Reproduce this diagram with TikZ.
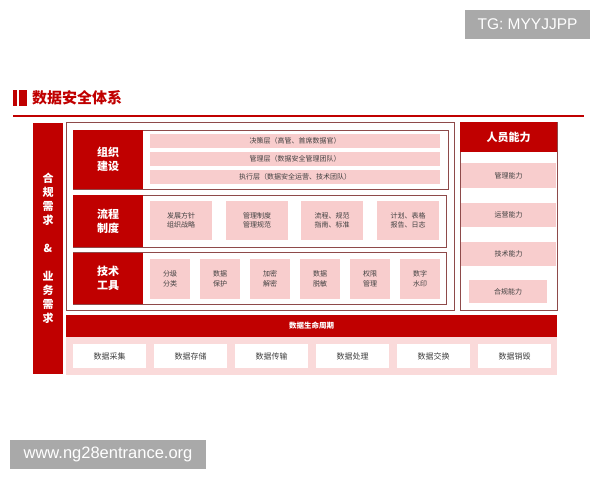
\documentclass[tikz,border=0pt]{standalone}
\usepackage{fontspec}
\setmainfont{Liberation Sans}
\newfontfamily\cjk{Noto Sans CJK SC}
\usetikzlibrary{positioning}

\definecolor{hongse}{HTML}{C00000}
\definecolor{fense}{HTML}{F8CDCD}
\definecolor{qianfen}{HTML}{FADADA}
\definecolor{biankuang}{HTML}{8E4A4A}
\definecolor{huise}{HTML}{A9A9A9}
\definecolor{wenzi}{HTML}{404040}

\tikzset{
  kuang/.style={anchor=north west, inner sep=0pt, outer sep=0pt, align=center},
  redblk/.style={kuang, fill=hongse, text=white, font=\cjk\bfseries\fontsize{11}{14}\selectfont},
  pinkbox/.style={kuang, fill=fense, text=wenzi, font=\cjk\fontsize{7}{9.5}\selectfont},
  whitebox/.style={kuang, fill=white, text=wenzi, font=\cjk\fontsize{8}{10}\selectfont},
  frame/.style={draw=biankuang, line width=0.8pt},
  shuiyin/.style={kuang, fill=huise, text=white}
}

\begin{document}
\begin{tikzpicture}[x=1pt, y=-1pt]
  \useasboundingbox (0,0) rectangle (600,480);

  % 标题
  \fill[hongse] (13,90) rectangle (17,106);
  \fill[hongse] (19,90) rectangle (27,106);
  \node[anchor=west, inner sep=0pt, text=hongse, font=\cjk\bfseries\fontsize{15}{17}\selectfont] (title) at (32,98) {数据安全体系};
  \draw[hongse, line width=2.5pt] (13,116) -- (584,116);

  % 左侧竖条
  \node[redblk, minimum width=30pt, minimum height=251pt] (xuqiu) at (33,123)
    {合\\规\\需\\求\\[14pt]\&\\[14pt]业\\务\\需\\求};

  % 主框
  \draw[frame] (66,122) rectangle (454,310);

  % 组织建设
  \draw[frame] (73,130) rectangle (448,189);
  \node[redblk, minimum width=70pt, minimum height=59pt] (zuzhi) at (73,130) {组织\\建设};
  \node[pinkbox, minimum width=290pt, minimum height=14pt] (juece) at (150,134) {决策层（高管、首席数据官）};
  \node[pinkbox, minimum width=290pt, minimum height=14pt] (guanli) at (150,152) {管理层（数据安全管理团队）};
  \node[pinkbox, minimum width=290pt, minimum height=14pt] (zhixing) at (150,170) {执行层（数据安全运营、技术团队）};

  % 流程制度
  \draw[frame] (73,195) rectangle (446,247);
  \node[redblk, minimum width=70pt, minimum height=52pt] (liucheng) at (73,195) {流程\\制度};
  \node[pinkbox, minimum width=62pt, minimum height=39pt] (fangzhen) at (150,201) {发展方针\\组织战略};
  \node[pinkbox, minimum width=62pt, minimum height=39pt] (zhidu) at (226,201) {管理制度\\管理规范};
  \node[pinkbox, minimum width=62pt, minimum height=39pt] (guifan) at (301,201) {流程、规范\\指南、标准};
  \node[pinkbox, minimum width=62pt, minimum height=39pt] (jihua) at (377,201) {计划、表格\\报告、日志};

  % 技术工具
  \draw[frame] (73,252) rectangle (446,304);
  \node[redblk, minimum width=70pt, minimum height=51pt] (jishu) at (73,253) {技术\\工具};
  \foreach \i/\nm/\txt in {0/fenji/分级\\分类, 1/baohu/数据\\保护, 2/jiami/加密\\解密,
                           3/tuomin/数据\\脱敏, 4/quanxian/权限\\管理, 5/shuiyinb/数字\\水印}
    \node[pinkbox, minimum width=40pt, minimum height=40pt] (\nm) at (150+50*\i,259) {\txt};

  % 人员能力
  \draw[frame] (460,122) rectangle (557,310);
  \node[redblk, minimum width=97pt, minimum height=30pt] (renyuan) at (460,122) {人员能力};
  \node[pinkbox, minimum width=95pt, minimum height=25pt] (guanlinl) at (461,163) {管理能力};
  \node[pinkbox, minimum width=95pt, minimum height=24pt] (yunying) at (461,203) {运营能力};
  \node[pinkbox, minimum width=95pt, minimum height=24pt] (jishunl) at (461,242) {技术能力};
  \node[pinkbox, minimum width=78pt, minimum height=23pt] (hegui) at (469,280) {合规能力};

  % 数据生命周期
  \node[redblk, minimum width=491pt, minimum height=22pt, font=\cjk\bfseries\fontsize{7.5}{9}\selectfont] (zhouqi) at (66,315) {数据生命周期};
  \fill[qianfen] (66,337) rectangle (557,375);
  \foreach \i/\nm/\txt in {0/caiji/数据采集, 1/cunchu/数据存储, 2/chuanshu/数据传输,
                           3/chuli/数据处理, 4/jiaohuan/数据交换, 5/xiaohui/数据销毁}
    \node[whitebox, minimum width=73pt, minimum height=24pt] (\nm) at (73+81*\i,344) {\txt};

  % 水印
  \node[shuiyin, minimum width=125pt, minimum height=29pt, font=\fontsize{15.5}{17}\selectfont] (tg) at (465,10) {TG: MYYJJPP};
  \node[shuiyin, minimum width=196pt, minimum height=29pt, font=\fontsize{16.5}{18}\selectfont] (www) at (10,440) {www.ng28entrance.org};
\end{tikzpicture}
\end{document}
